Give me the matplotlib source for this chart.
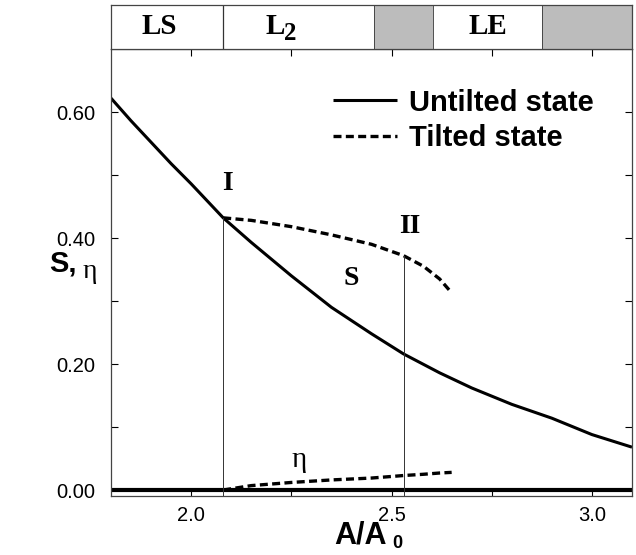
import matplotlib
matplotlib.use("Agg")
import matplotlib.pyplot as plt

# ---- data ----
x_untilted = [1.80, 1.85, 1.90, 1.95, 2.00, 2.08, 2.15, 2.25, 2.35, 2.45, 2.53, 2.62, 2.70, 2.80, 2.90, 3.00, 3.10]
s_untilted = [0.622, 0.586, 0.552, 0.518, 0.486, 0.432, 0.393, 0.340, 0.290, 0.248, 0.216, 0.186, 0.162, 0.136, 0.114, 0.088, 0.068]
eta_untilted_x = [1.80, 3.10]
eta_untilted = [0.0, 0.0]

x_tilted = [2.08, 2.15, 2.25, 2.35, 2.45, 2.53, 2.58, 2.62, 2.65]
s_tilted = [0.432, 0.428, 0.418, 0.405, 0.390, 0.372, 0.355, 0.335, 0.313]
eta_tilted = [0.0, 0.007, 0.012, 0.016, 0.019, 0.023, 0.025, 0.027, 0.028]

x_I = 2.08
x_II = 2.53

phase_labels = ["LS", "L", "LE"]
phase_label_x = [1.92, 2.21, 2.74]
phase_bounds = [1.80, 2.08, 2.456, 2.603, 2.876, 3.10]
phase_gray = [False, False, True, False, True]

xticks = [2.0, 2.5, 3.0]
xtick_labels = ["2.0", "2.5", "3.0"]
yticks = [0.0, 0.2, 0.4, 0.6]
ytick_labels = ["0.00", "0.20", "0.40", "0.60"]

# ---- figure ----
fig = plt.figure(figsize=(6.36, 5.55), dpi=100)
L, R = 111 / 636, 632 / 636
B, T = 1 - 496 / 555, 1 - 49 / 555
ax = fig.add_axes([L, B, R - L, T - B])
band = fig.add_axes([L, T, R - L, (49 - 5) / 555])

sans = "Liberation Sans"
serif = "Liberation Serif"

# curves
ax.plot(x_untilted, s_untilted, color="black", lw=2.2, solid_capstyle="butt", label="Untilted state")
ax.plot(eta_untilted_x, eta_untilted, color="black", lw=3.0, solid_capstyle="butt")
ax.plot(x_tilted, s_tilted, color="black", lw=2.4, dashes=(2.4, 1.3), label="Tilted state")
ax.plot(x_tilted, eta_tilted, color="black", lw=2.4, dashes=(2.4, 1.3))

ax.plot([x_I, x_I], [-0.01, s_tilted[0]], color="#333333", lw=0.7)
ax.plot([x_II, x_II], [-0.01, s_tilted[5]], color="#333333", lw=0.7)

ax.set_xlim(1.80, 3.10)
ax.set_ylim(-0.0095, 0.70)
ax.set_xticks(xticks)
ax.set_xticklabels(xtick_labels, fontfamily=sans, fontsize=14.5)
ax.set_yticks(yticks)
ax.set_yticklabels(ytick_labels, fontfamily=sans, fontsize=14.5)
ax.set_xticks([2.25, 2.75], minor=True)
ax.set_yticks([0.1, 0.3, 0.5], minor=True)
ax.tick_params(which="both", direction="in", top=True, right=True, length=5, width=0.8)
ax.tick_params(axis="y", pad=11)
ax.tick_params(axis="x", pad=7)
for sp in ax.spines.values():
    sp.set_linewidth(0.9)
    sp.set_color("#444444")

# annotations
ax.text(2.09, 0.487, "I", fontfamily=serif, fontweight="bold", fontsize=20, ha="center", va="center")
ax.text(2.545, 0.418, "II", fontfamily=serif, fontweight="bold", fontsize=20, ha="center", va="center")
ax.text(2.40, 0.336, "S", fontfamily=serif, fontweight="bold", fontsize=20, ha="center", va="center")
ax.text(2.27, 0.047, "η", fontfamily=serif, fontsize=21, ha="center", va="center")

leg = ax.legend(loc="upper left", bbox_to_anchor=(0.376, 0.97), frameon=False,
                prop={"family": sans, "weight": "bold", "size": 21},
                handlelength=2.2, handletextpad=0.4, labelspacing=0.25)

# axis labels
fig.text(63 / 636, 1 - 263 / 555, "S,", fontfamily=sans, fontweight="bold", fontsize=21, ha="center", va="center")
fig.text(90 / 636, 1 - 271 / 555, "η", fontfamily=serif, fontsize=20, ha="center", va="center")
fig.text(360 / 636, 1 - 535 / 555, "A/A", fontfamily=sans, fontweight="bold", fontsize=22, ha="center", va="center")
fig.text(397 / 636, 1 - 544 / 555, "0", fontfamily=sans, fontweight="bold", fontsize=13, ha="center", va="center")

# phase band
band.set_xlim(1.80, 3.10)
band.set_ylim(0, 1)
for i in range(len(phase_gray)):
    if phase_gray[i]:
        band.axvspan(phase_bounds[i], phase_bounds[i + 1], color="#bcbcbc", lw=0)
band.axvline(x_I, color="#333333", lw=0.9)
for xb in phase_bounds[2:5]:
    band.axvline(xb, color="#333333", lw=0.6)
band.set_xticks([])
band.set_yticks([])
for sp in band.spines.values():
    sp.set_linewidth(0.9)
    sp.set_color("#444444")
for lab, xl in zip(phase_labels, phase_label_x):
    band.text(xl, 0.52, lab, fontfamily=serif, fontweight="bold", fontsize=21, ha="center", va="center")
band.annotate("2", xy=(2.21, 0.52), xytext=(11, -5), textcoords="offset points",
              fontfamily=serif, fontweight="bold", fontsize=18, ha="center", va="center")

fig.savefig("out.png", dpi=100)
